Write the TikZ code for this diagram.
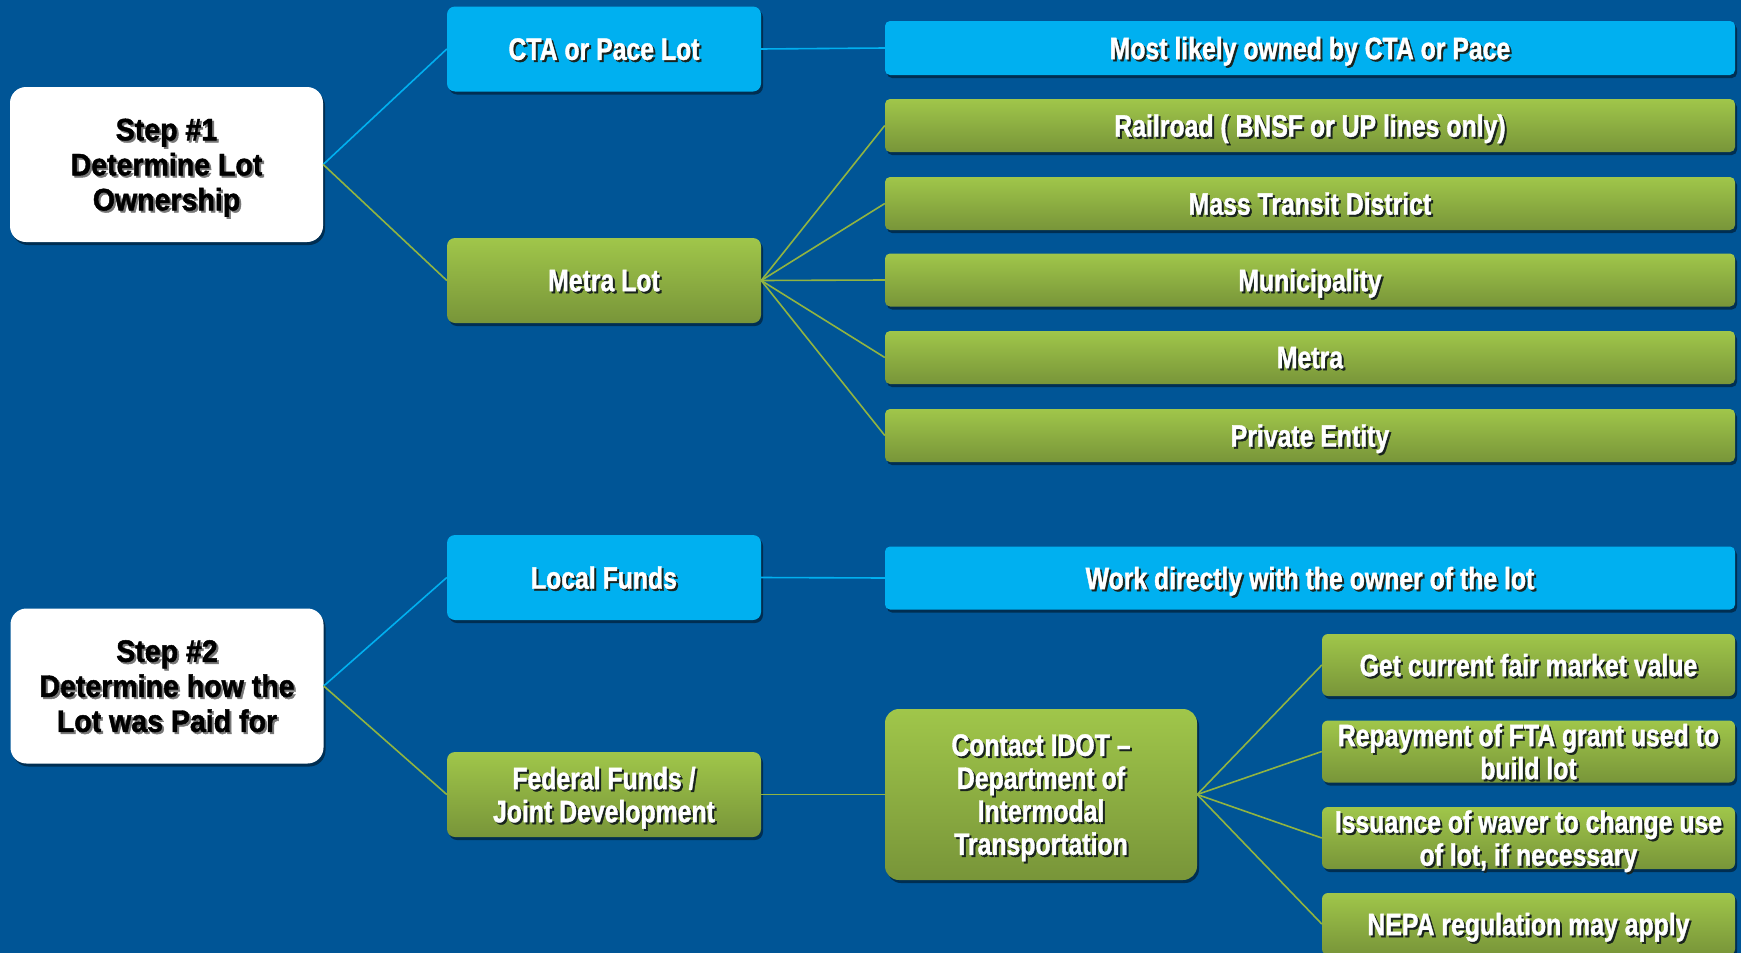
\documentclass[tikz,border=0pt]{standalone}
\usepackage{fontspec}
\setmainfont{Liberation Sans}[FakeStretch=0.80, BoldFeatures={FakeBold=1.2}]
\newfontfamily\stepfont{Liberation Sans}[FakeStretch=0.92, BoldFeatures={FakeBold=1.5}]
\usetikzlibrary{shadows}

\definecolor{bgblue}{RGB}{0,85,150}
\definecolor{cyanbox}{RGB}{0,176,240}
\definecolor{gtop}{RGB}{160,198,74}
\definecolor{gbot}{RGB}{120,149,57}
\definecolor{gline}{RGB}{145,180,65}
\definecolor{bline}{RGB}{0,176,240}
\definecolor{txtshadow}{RGB}{25,35,30}
\definecolor{grayshadow}{RGB}{120,120,120}

% text with a small drop shadow behind it
\newcommand\sh[2][txtshadow]{\leavevmode\rlap{\kern2pt\raisebox{-2pt}{\textcolor{#1}{#2}}}#2}
\newcommand\shk[1]{\sh[grayshadow]{#1}}

\tikzset{
  box/.style={rounded corners=8pt, inner sep=0pt, align=center, text=white,
    text depth=0pt,
    font=\bfseries\fontsize{31}{33}\selectfont,
    drop shadow={shadow xshift=2pt, shadow yshift=-3pt, opacity=.45, fill=black}},
  greenbox/.style={box, top color=gtop, bottom color=gbot, draw=none},
  bluebox/.style={box, fill=cyanbox},
  stepbox/.style={box, fill=white, text=black, rounded corners=16pt,
    font=\stepfont\bfseries\fontsize{31}{35}\selectfont,
    minimum width=313pt, minimum height=155pt},
  midbox/.style={minimum width=314pt, minimum height=85pt},
  widebox/.style={minimum width=850pt, minimum height=53pt, rounded corners=5pt},
  leafbox/.style={minimum width=413pt, minimum height=62pt, rounded corners=6pt},
  gconn/.style={draw=gline, line width=1.6pt},
  bconn/.style={draw=bline, line width=1.6pt}
}

\begin{document}
\begin{tikzpicture}[x=1pt,y=-1pt]
\useasboundingbox (0,0) rectangle (1741,953);
\clip (0,0) rectangle (1741,953);
\fill[bgblue] (0,0) rectangle (1741,953);

% ---- Step 1: ownership ----
\node[stepbox] (s1) at (166.5,164.5) {\shk{Step \#1}\\\shk{Determine Lot}\\\shk{Ownership}};
\node[bluebox, midbox] (cta) at (604,49) {\sh{CTA or Pace Lot}};
\node[greenbox, midbox] (mlot) at (604,280.5) {\sh{Metra Lot}};

\node[bluebox, widebox, minimum height=54pt] (most) at (1310,48) {\sh{Most likely owned by CTA or Pace}};
\node[greenbox, widebox] (rail) at (1310,125.5) {\sh{Railroad ( BNSF or UP lines only)}};
\node[greenbox, widebox] (mass) at (1310,203.5) {\sh{Mass Transit District}};
\node[greenbox, widebox] (muni) at (1310,280) {\sh{Municipality}};
\node[greenbox, widebox] (metra) at (1310,357.5) {\sh{Metra}};
\node[greenbox, widebox] (priv) at (1310,435.5) {\sh{Private Entity}};

% ---- Step 2: funding ----
\node[stepbox] (s2) at (167,686) {\shk{Step \#2}\\\shk{Determine how the}\\\shk{Lot was Paid for}};
\node[bluebox, midbox] (local) at (604,577.5) {\sh{Local Funds}};
\node[greenbox, midbox] (fed) at (604,794.5) {\sh{Federal Funds /}\\\sh{Joint Development}};

\node[bluebox, widebox, minimum height=63pt] (work) at (1310,578) {\sh{Work directly with the owner of the lot}};
\node[greenbox, minimum width=312pt, minimum height=171pt, rounded corners=14pt] (idot) at (1041,794.5)
  {\sh{Contact IDOT --}\\\sh{Department of}\\\sh{Intermodal}\\\sh{Transportation}};

\node[greenbox, leafbox] (fair) at (1528.5,665) {\sh{Get current fair market value}};
\node[greenbox, leafbox] (repay) at (1528.5,751.5) {\sh{Repayment of FTA grant used to}\\\sh{build lot}};
\node[greenbox, leafbox] (waver) at (1528.5,838) {\sh{Issuance of waver to change use}\\\sh{of lot, if necessary}};
\node[greenbox, leafbox] (nepa) at (1528.5,924) {\sh{NEPA regulation may apply}};

% ---- connectors ----
\draw[bconn] (s1.east) -- (cta.west);
\draw[gconn] (s1.east) -- (mlot.west);
\draw[bconn] (cta.east) -- (most.west);
\foreach \t in {rail,mass,muni,metra,priv}
  \draw[gconn] (mlot.east) -- (\t.west);

\draw[bconn] (s2.east) -- (local.west);
\draw[gconn] (s2.east) -- (fed.west);
\draw[bconn] (local.east) -- (work.west);
\draw[gconn] (fed.east) -- (idot.west);
\foreach \t in {fair,repay,waver,nepa}
  \draw[gconn] (idot.east) -- (\t.west);
\end{tikzpicture}
\end{document}
